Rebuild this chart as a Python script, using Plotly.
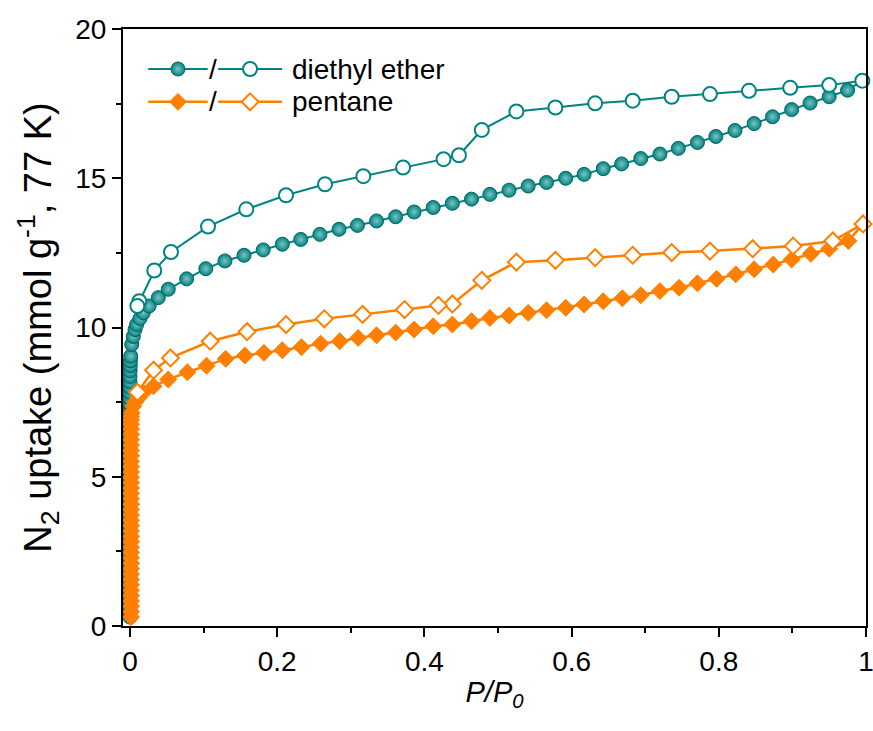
import plotly.graph_objects as go

# ---------------- data ----------------
# diethyl ether, adsorption branch (filled circles)
ether_ads_x = [0.0, 0.0, 0.0, 0.0, 0.0, 0.0, 0.0, 0.0, 0.0, 0.0,
               0.0, 0.0, 0.0, 0.0, 0.0, 0.0, 0.0, 0.0, 0.0, 0.0,
               0.0, 0.0, 0.0, 0.0, 0.0, 0.0, 0.0, 0.0, 0.0, 0.0,
               0.0, 0.0, 0.0, 0.0, 0.0, 0.0, 0.0, 0.0, 0.0002, 0.0004,
               0.0006, 0.001, 0.0023, 0.0045, 0.0068, 0.009, 0.0136, 0.018, 0.026, 0.0385,
               0.052, 0.077, 0.103, 0.129, 0.155, 0.181, 0.207, 0.232, 0.258, 0.284,
               0.309, 0.335, 0.361, 0.386, 0.412, 0.438, 0.464, 0.489, 0.515, 0.541,
               0.566, 0.592, 0.617, 0.643, 0.668, 0.694, 0.720, 0.745, 0.771, 0.796,
               0.822, 0.848, 0.873, 0.899, 0.924, 0.950, 0.975, 0.995]
ether_ads_y = [0.30, 0.52, 0.75, 0.98, 1.20, 1.43, 1.66, 1.88, 2.10, 2.33,
               2.56, 2.78, 3.01, 3.24, 3.46, 3.69, 3.92, 4.14, 4.37, 4.60,
               4.82, 5.05, 5.28, 5.50, 5.73, 5.95, 6.18, 6.40, 6.62, 6.84,
               7.05, 7.25, 7.45, 7.63, 7.82, 8.00, 8.18, 8.36, 8.55, 8.72,
               8.88, 9.04, 9.43, 9.70, 9.93, 10.10, 10.30, 10.49, 10.72, 11.00,
               11.28, 11.63, 11.97, 12.23, 12.42, 12.60, 12.79, 12.95, 13.12, 13.29,
               13.42, 13.57, 13.71, 13.87, 14.02, 14.16, 14.30, 14.46, 14.60, 14.74,
               14.86, 15.00, 15.13, 15.32, 15.48, 15.66, 15.81, 16.00, 16.20, 16.40,
               16.60, 16.83, 17.06, 17.30, 17.52, 17.73, 17.95, 18.27]

# diethyl ether, desorption branch (open circles)
ether_des_x = [0.995, 0.950, 0.897, 0.841, 0.788, 0.736, 0.683, 0.632, 0.578, 0.525,
               0.478, 0.447, 0.426, 0.371, 0.317, 0.265, 0.212, 0.158, 0.106, 0.0557,
               0.033, 0.0127, 0.010]
ether_des_y = [18.27, 18.12, 18.03, 17.93, 17.82, 17.73, 17.60, 17.51, 17.37, 17.24,
               16.62, 15.77, 15.64, 15.36, 15.07, 14.80, 14.43, 13.96, 13.38, 12.53,
               11.91, 10.88, 10.72]

# pentane, adsorption branch (filled diamonds)
pent_ads_x = [0.0015, 0.0015, 0.0015, 0.0015, 0.0015, 0.0015, 0.0015, 0.0015, 0.0015, 0.0015,
              0.0015, 0.0015, 0.0015, 0.0015, 0.0015, 0.0015, 0.0015, 0.0015, 0.0015, 0.0015,
              0.0015, 0.0015, 0.0015, 0.0015, 0.0015, 0.0015, 0.0015, 0.0015, 0.0015, 0.0015,
              0.0015, 0.0015, 0.0015, 0.0015, 0.0015, 0.0015, 0.0015, 0.0015, 0.0018, 0.0023,
              0.0045, 0.0068, 0.011, 0.018, 0.032,
              0.052, 0.078, 0.104, 0.130, 0.156, 0.182, 0.207, 0.233, 0.259, 0.285,
              0.310, 0.335, 0.361, 0.386, 0.412, 0.438, 0.464, 0.489, 0.515, 0.541,
              0.566, 0.592, 0.617, 0.643, 0.669, 0.694, 0.720, 0.746, 0.771, 0.797,
              0.823, 0.848, 0.874, 0.899, 0.925, 0.950, 0.976, 0.996]
pent_ads_y = [0.30, 0.48, 0.66, 0.84, 1.02, 1.20, 1.38, 1.56, 1.74, 1.92,
              2.10, 2.28, 2.46, 2.64, 2.82, 3.00, 3.18, 3.36, 3.54, 3.72,
              3.90, 4.08, 4.26, 4.44, 4.62, 4.80, 4.98, 5.16, 5.34, 5.52,
              5.70, 5.88, 6.06, 6.24, 6.42, 6.60, 6.76, 6.90, 7.02, 7.14,
              7.36, 7.50, 7.62, 7.81, 8.03,
              8.26, 8.50, 8.72, 8.95, 9.06, 9.15, 9.24, 9.34, 9.46, 9.54,
              9.65, 9.74, 9.83, 9.93, 10.04, 10.10, 10.21, 10.32, 10.40, 10.49,
              10.58, 10.66, 10.77, 10.88, 10.98, 11.08, 11.22, 11.33, 11.48, 11.63,
              11.78, 11.95, 12.11, 12.28, 12.47, 12.64, 12.90, 13.47]

# pentane, desorption branch (open diamonds)
pent_des_x = [0.996, 0.955, 0.901, 0.846, 0.788, 0.736, 0.683, 0.632, 0.578, 0.525,
              0.478, 0.438, 0.419, 0.373, 0.316, 0.264, 0.212, 0.159, 0.109, 0.055,
              0.032, 0.010]
pent_des_y = [13.47, 12.90, 12.73, 12.64, 12.56, 12.51, 12.42, 12.34, 12.25, 12.19,
              11.58, 10.79, 10.74, 10.60, 10.44, 10.29, 10.10, 9.86, 9.54, 8.98,
              8.57, 7.83]

x_tick_vals = [0, 0.2, 0.4, 0.6, 0.8, 1]
x_tick_text = ["0", "0.2", "0.4", "0.6", "0.8", "1"]
y_tick_vals = [0, 5, 10, 15, 20]

series_names = ["diethyl ether", "pentane"]

# ---------------- styling ----------------
TEAL = "#008382"
TEAL_DARK = "#006665"
TEAL_LIGHT = "#7fc4c0"
ORANGE = "#ff8000"
FONT = "Liberation Sans, Arial, sans-serif"
MS_CIRCLE = 14
MS_DIAMOND = 13

filled_circle = dict(symbol="circle", size=MS_CIRCLE, color=TEAL,
                     gradient=dict(type="radial", color=TEAL_LIGHT),
                     line=dict(color=TEAL_DARK, width=1))
open_circle = dict(symbol="circle", size=MS_CIRCLE, color="white",
                   line=dict(color=TEAL, width=2))
filled_diamond = dict(symbol="diamond", size=MS_DIAMOND, color=ORANGE,
                      line=dict(color=ORANGE, width=1))
open_diamond = dict(symbol="diamond", size=MS_DIAMOND, color="white",
                    line=dict(color=ORANGE, width=2))

fig = go.Figure()

fig.add_trace(go.Scatter(x=ether_ads_x, y=ether_ads_y, mode="lines+markers",
                         line=dict(color=TEAL, width=2), marker=filled_circle,
                         showlegend=False, cliponaxis=False))
fig.add_trace(go.Scatter(x=ether_des_x, y=ether_des_y, mode="lines+markers",
                         line=dict(color=TEAL, width=2), marker=open_circle,
                         showlegend=False, cliponaxis=False))
fig.add_trace(go.Scatter(x=pent_ads_x, y=pent_ads_y, mode="lines+markers",
                         line=dict(color=ORANGE, width=2.5), marker=filled_diamond,
                         showlegend=False, cliponaxis=False))
fig.add_trace(go.Scatter(x=pent_des_x, y=pent_des_y, mode="lines+markers",
                         line=dict(color=ORANGE, width=2.5), marker=open_diamond,
                         showlegend=False, cliponaxis=False))

# ---------------- compound legend (glyphs on a hidden overlay axis) ----------------
leg_rows = [0.933, 0.878]
seg1 = (0.034, 0.114)
seg2 = (0.128, 0.214)
leg_styles = [(TEAL, 2, filled_circle, open_circle), (ORANGE, 2.5, filled_diamond, open_diamond)]
for row_y, (col, lw, m_fill, m_open), name in zip(leg_rows, leg_styles, series_names):
    for (x0, x1), mk in ((seg1, m_fill), (seg2, m_open)):
        fig.add_trace(go.Scatter(x=[x0, x1], y=[row_y, row_y], mode="lines",
                                 line=dict(color=col, width=lw), xaxis="x2", yaxis="y2",
                                 showlegend=False, hoverinfo="skip"))
        fig.add_trace(go.Scatter(x=[(x0 + x1) / 2], y=[row_y], mode="markers",
                                 marker=mk, xaxis="x2", yaxis="y2",
                                 showlegend=False, hoverinfo="skip"))
    fig.add_annotation(x=0.121, y=row_y, xref="x2", yref="y2", text="/",
                       showarrow=False, font=dict(size=28, color="black", family=FONT))
    fig.add_annotation(x=0.225, y=row_y, xref="x2", yref="y2", text=name,
                       xanchor="left", showarrow=False,
                       font=dict(size=28, color="black", family=FONT))

axis_common = dict(
    showline=True, linecolor="black", linewidth=2, mirror=True,
    ticks="outside", ticklen=9, tickwidth=2, tickcolor="black",
    showgrid=False, zeroline=False, automargin=False,
    ticklabeloverflow="allow",
    tickfont=dict(size=28, color="black", family=FONT),
)

fig.update_layout(
    width=873, height=731,
    margin=dict(l=123, r=7, t=29, b=105),
    paper_bgcolor="white", plot_bgcolor="white",
    font=dict(family=FONT, color="black"),
    xaxis=dict(
        **axis_common,
        range=[-0.0095, 1.0],
        tickvals=x_tick_vals, ticktext=x_tick_text,
        minor=dict(ticks="outside", ticklen=5, tickwidth=2, tickcolor="black", dtick=0.1, tick0=0),
        title=dict(text="<i>P/P<sub>0</sub></i>", font=dict(size=29, family=FONT), standoff=6),
    ),
    yaxis=dict(
        **axis_common,
        range=[0, 20],
        tickvals=y_tick_vals,
        minor=dict(ticks="outside", ticklen=5, tickwidth=2, tickcolor="black", dtick=2.5, tick0=0),
        title=dict(text="N<sub>2</sub> uptake (mmol g<sup>-1</sup>, 77 K)",
                   font=dict(size=38, family=FONT), standoff=12),
    ),
    xaxis2=dict(overlaying="x", range=[0, 1], visible=False, domain=[0, 1]),
    yaxis2=dict(overlaying="y", range=[0, 1], visible=False),
)

fig.write_html("out.html")
